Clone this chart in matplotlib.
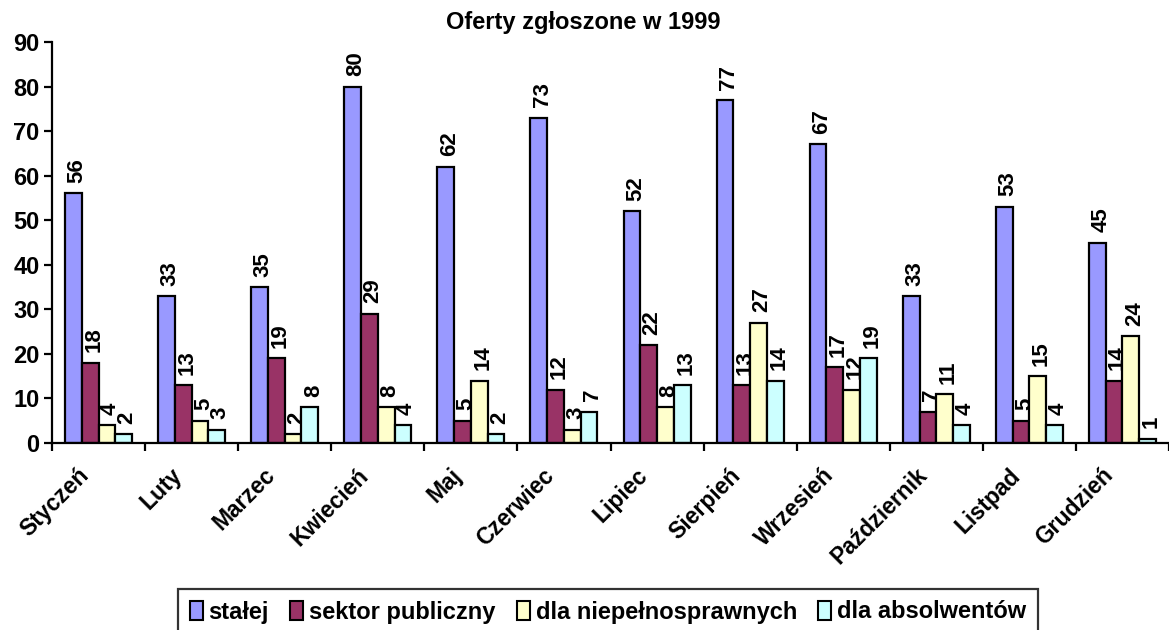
import matplotlib
matplotlib.use("Agg")
import matplotlib.pyplot as plt
import matplotlib.transforms as mtrans
import numpy as np
from matplotlib.patches import Patch

plt.rcParams['font.family'] = ['Liberation Sans', 'DejaVu Sans']

months = ["Styczeń", "Luty", "Marzec", "Kwiecień", "Maj", "Czerwiec", "Lipiec",
          "Sierpień", "Wrzesień", "Październik", "Listpad", "Grudzień"]
series_names = ["stałej", "sektor publiczny", "dla niepełnosprawnych", "dla absolwentów"]
stalej = [56, 33, 35, 80, 62, 73, 52, 77, 67, 33, 53, 45]
sektor = [18, 13, 19, 29, 5, 12, 22, 13, 17, 7, 5, 14]
niepelnosprawni = [4, 5, 2, 8, 14, 3, 8, 27, 12, 11, 15, 24]
absolwenci = [2, 3, 8, 4, 2, 7, 13, 14, 19, 4, 4, 1]
colors = ["#9999FF", "#993366", "#FFFFCC", "#CCFFFF"]
yticks = [0, 10, 20, 30, 40, 50, 60, 70, 80, 90]

W, H = 1169, 630
fig = plt.figure(figsize=(W / 100, H / 100), dpi=100)
ax = fig.add_axes([52 / W, 1 - 443 / H, (W - 52) / W, (443 - 42) / H])

x = np.arange(len(months))
bw = 0.18
data = [stalej, sektor, niepelnosprawni, absolwenci]
for i, (vals, c) in enumerate(zip(data, colors)):
    pos = x + (i - 1.5) * bw
    ax.bar(pos, vals, width=bw, color=c, edgecolor="black", linewidth=1.6, zorder=3)
    for px, v in zip(pos, vals):
        ax.annotate(str(v), (px, v), xytext=(2.5, 7.5), textcoords="offset points",
                    rotation=90, ha="center", va="bottom", fontsize=16,
                    fontweight="bold", zorder=5)

ax.set_xlim(-0.5, 11.45)
ax.set_ylim(0, 90)
ax.set_yticks(yticks)
ax.set_yticklabels([str(t) for t in yticks], fontsize=17, fontweight="bold")
ax.set_xticks(np.arange(-0.5, 12, 1.0))
ax.set_xticklabels([])
ax.set_xticks(x, minor=True)
ax.set_xticklabels(months, minor=True, rotation=45, ha="right",
                   rotation_mode="anchor", fontsize=16.5, fontweight="bold")
ax.tick_params(axis="x", which="minor", length=0, pad=15)
ax.tick_params(axis="x", which="major", direction="out", length=6, width=1.6)
ax.tick_params(axis="y", direction="out", length=6, width=1.6, pad=3)
for s in ["top", "right"]:
    ax.spines[s].set_visible(False)
for s in ["left", "bottom"]:
    ax.spines[s].set_linewidth(1.6)
    ax.spines[s].set_zorder(6)

offset = mtrans.ScaledTranslation(-21 / 100, 0, fig.dpi_scale_trans)
for lbl in ax.get_xticklabels(minor=True):
    lbl.set_transform(lbl.get_transform() + offset)

fig.text(583 / W, 1 - 22 / H, "Oferty zgłoszone w 1999", ha="center", va="center",
         fontsize=17, fontweight="bold")

handles = [Patch(facecolor=c, edgecolor="black", linewidth=1.5) for c in colors]
leg = fig.legend(handles, series_names, loc="center", bbox_to_anchor=(608 / W, 1 - 612 / H),
                 ncol=4, frameon=True, fancybox=False, handlelength=0.55, handleheight=0.9,
                 handletextpad=0.25, columnspacing=0.9, borderpad=0.5, borderaxespad=0,
                 prop={"weight": "bold", "size": 17})
leg.get_frame().set_edgecolor("black")
leg.get_frame().set_linewidth(1.6)

fig.savefig("out.png", dpi=100)
